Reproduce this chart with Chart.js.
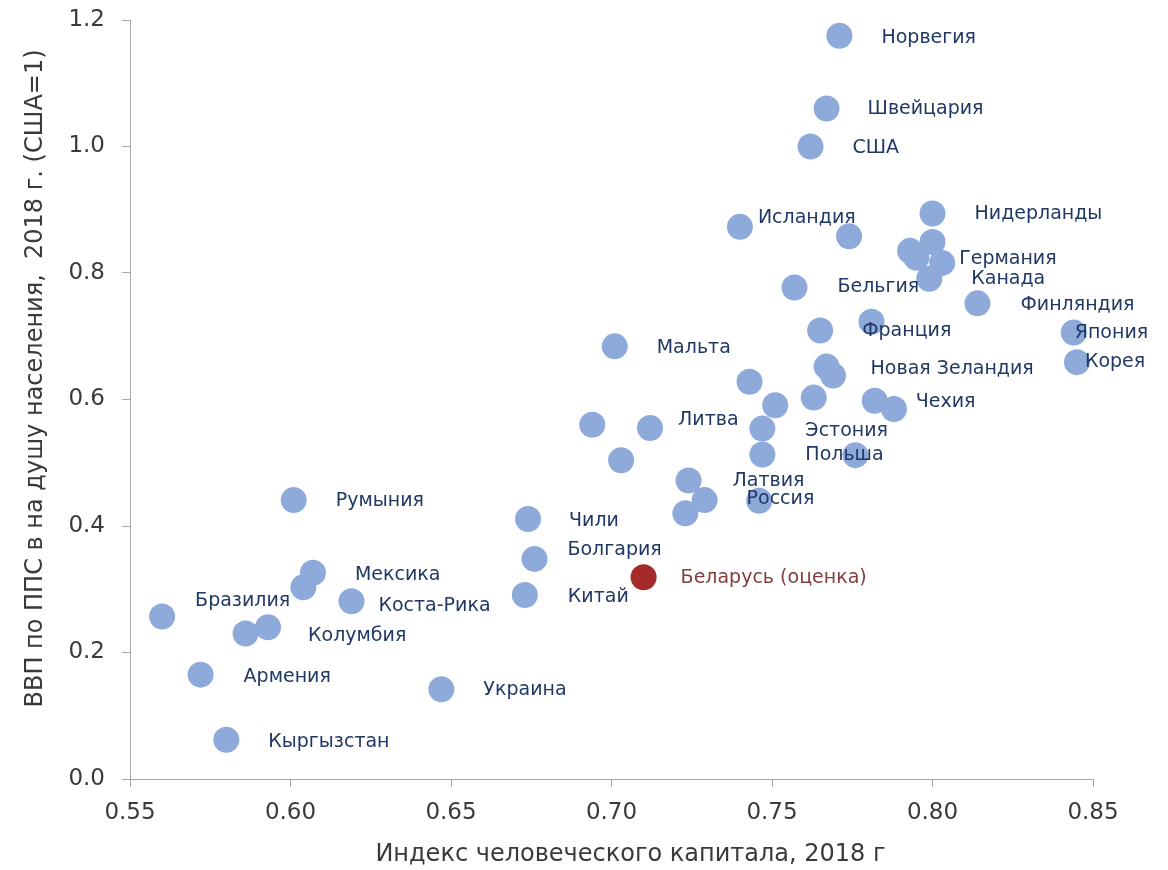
<!DOCTYPE html>
<html>
<head>
<meta charset="utf-8">
<script src="https://cdn.jsdelivr.net/npm/chart.js@4/dist/chart.umd.min.js"></script>
<style>
  html, body { margin: 0; padding: 0; background: #ffffff; }
</style>
</head>
<body>
<canvas id="hciChart" width="1168" height="870"></canvas>
<script>
/********************
DATA
********************/

// '' = point without a label
var countries = ['Норвегия', 'Швейцария', 'США', 'Исландия', '', 'Нидерланды', '', '', '', 'Германия',
  'Канада', 'Бельгия', 'Финляндия', '', 'Франция', 'Япония', 'Корея', 'Мальта', 'Новая Зеландия', '',
  '', '', '', 'Чехия', '', '', 'Литва', 'Эстония', 'Польша', '',
  '', 'Латвия', 'Россия', '', '', 'Румыния', 'Чили', 'Болгария', 'Китай', 'Мексика',
  '', 'Коста-Рика', 'Бразилия', 'Колумбия', '', 'Армения', 'Украина', 'Кыргызстан'];

var hci = [0.771, 0.767, 0.762, 0.740, 0.774, 0.800, 0.800, 0.793, 0.795, 0.803,
  0.799, 0.757, 0.814, 0.781, 0.765, 0.844, 0.845, 0.701, 0.767, 0.769,
  0.743, 0.751, 0.763, 0.782, 0.788, 0.694, 0.712, 0.747, 0.747, 0.776,
  0.703, 0.724, 0.729, 0.723, 0.746, 0.601, 0.674, 0.676, 0.673, 0.607,
  0.604, 0.619, 0.560, 0.593, 0.586, 0.572, 0.647, 0.580];

var gdp = [1.175, 1.060, 1.000, 0.873, 0.858, 0.894, 0.849, 0.835, 0.824, 0.816,
  0.791, 0.777, 0.752, 0.723, 0.709, 0.706, 0.659, 0.684, 0.652, 0.638,
  0.628, 0.591, 0.603, 0.598, 0.585, 0.560, 0.555, 0.554, 0.513, 0.512,
  0.504, 0.472, 0.441, 0.420, 0.440, 0.441, 0.411, 0.348, 0.291, 0.326,
  0.303, 0.281, 0.257, 0.240, 0.230, 0.165, 0.142, 0.062];

var belarusName = ['Беларусь (оценка)'];
var belarusHci = [0.710];
var belarusGdp = [0.319];

var xTickValues = [0.55, 0.60, 0.65, 0.70, 0.75, 0.80, 0.85];
var yTickValues = [0.0, 0.2, 0.4, 0.6, 0.8, 1.0, 1.2];

var xTitle = 'Индекс человеческого капитала, 2018 г';
var yTitle = 'ВВП по ППС в на душу населения,  2018 г. (США=1)';

/********************
LABEL PLACEMENT (pixels from point centre)
********************/

var labelOffsets = [[42, 2], [41, 1], [42, 2], [18, -9], [0, 0], [42, 1], [0, 0], [0, 0], [0, 0], [17, -4],
  [42, 0], [43, 0], [43, 2], [0, 0], [42, 1], [1, 1], [8, 0], [42, 2], [44, 2], [0, 0],
  [0, 0], [0, 0], [0, 0], [41, 1], [0, 0], [0, 0], [28, -8], [43, 2], [43, 1], [0, 0],
  [0, 0], [44, 1], [42, -1], [0, 0], [0, 0], [42, 1], [41, 2], [33, -9], [43, 2], [42, 2],
  [0, 0], [27, 5], [33, -15], [40, 9], [0, 0], [43, 2], [42, 1], [42, 2]];
var belarusOffset = [[37, 1]];

function toPoints(xs, ys) {
  return xs.map(function (x, i) { return { x: x, y: ys[i] }; });
}

var axisColor = '#a6a6a6';
var textColor = '#3a3a3a';
var tickFont = { family: '"DejaVu Sans"', size: 23 };

// country names next to the points
var pointLabels = {
  id: 'pointLabels',
  afterDatasetsDraw: function (chart) {
    var ctx = chart.ctx;
    ctx.save();
    ctx.font = '19px "DejaVu Sans"';
    ctx.textAlign = 'left';
    ctx.textBaseline = 'middle';
    chart.data.datasets.forEach(function (ds, di) {
      var meta = chart.getDatasetMeta(di);
      ctx.fillStyle = ds.labelColor;
      meta.data.forEach(function (pt, i) {
        var name = ds.names[i];
        if (!name) return;
        var off = ds.offsets[i];
        ctx.fillText(name, pt.x + off[0], pt.y + off[1]);
      });
    });
    ctx.restore();
  }
};

// axis titles, a bit off the plot centre like in the original
var axisTitles = {
  id: 'axisTitles',
  afterDraw: function (chart) {
    var a = chart.chartArea;
    var ctx = chart.ctx;
    ctx.save();
    ctx.fillStyle = textColor;
    ctx.font = '24px "DejaVu Sans"';
    ctx.textAlign = 'center';
    ctx.textBaseline = 'middle';
    ctx.fillText(xTitle, (a.left + a.right) / 2 + 19, 855);
    ctx.translate(36, (a.top + a.bottom) / 2 - 21);
    ctx.rotate(-Math.PI / 2);
    ctx.fillText(yTitle, 0, 0);
    ctx.restore();
  }
};

/********************
SCATTER CHART
********************/

var ctx = document.getElementById('hciChart').getContext('2d');
var chart = new Chart(ctx, {
  type: 'scatter',
  data: {
    datasets: [{
      names: countries,
      offsets: labelOffsets,
      labelColor: '#203864',
      data: toPoints(hci, gdp),
      backgroundColor: '#8eaadb',
      borderWidth: 0,
      pointRadius: 13,
      pointHoverRadius: 13
    }, {
      names: belarusName,
      offsets: belarusOffset,
      labelColor: '#843c3c',
      data: toPoints(belarusHci, belarusGdp),
      backgroundColor: '#a52a2a',
      borderWidth: 0,
      pointRadius: 13,
      pointHoverRadius: 13
    }]
  },
  options: {
    responsive: false,
    animation: false,
    layout: { padding: { top: 20, right: 75, bottom: 0, left: 0 } },
    plugins: {
      legend: { display: false },
      tooltip: { enabled: false }
    },
    scales: {
      x: {
        type: 'linear',
        min: 0.55,
        max: 0.85,
        afterBuildTicks: function (scale) {
          scale.ticks = xTickValues.map(function (v) { return { value: v }; });
        },
        afterFit: function (scale) { scale.height = 91; },
        ticks: {
          color: textColor,
          font: tickFont,
          padding: 12,
          maxRotation: 0,
          callback: function (v) { return v.toFixed(2); }
        },
        grid: { drawOnChartArea: false, color: axisColor, tickLength: 8 },
        border: { color: axisColor, width: 1 }
      },
      y: {
        min: 0,
        max: 1.2,
        afterBuildTicks: function (scale) {
          scale.ticks = yTickValues.map(function (v) { return { value: v }; });
        },
        afterFit: function (scale) {
          scale.width = 130;
          scale.paddingTop = 0;
          scale.paddingBottom = 0;
        },
        ticks: {
          color: textColor,
          font: tickFont,
          padding: 17,
          callback: function (v) { return v.toFixed(1); }
        },
        grid: { drawOnChartArea: false, color: axisColor, tickLength: 8 },
        border: { color: axisColor, width: 1 }
      }
    }
  },
  plugins: [pointLabels, axisTitles]
});
</script>
</body>
</html>
